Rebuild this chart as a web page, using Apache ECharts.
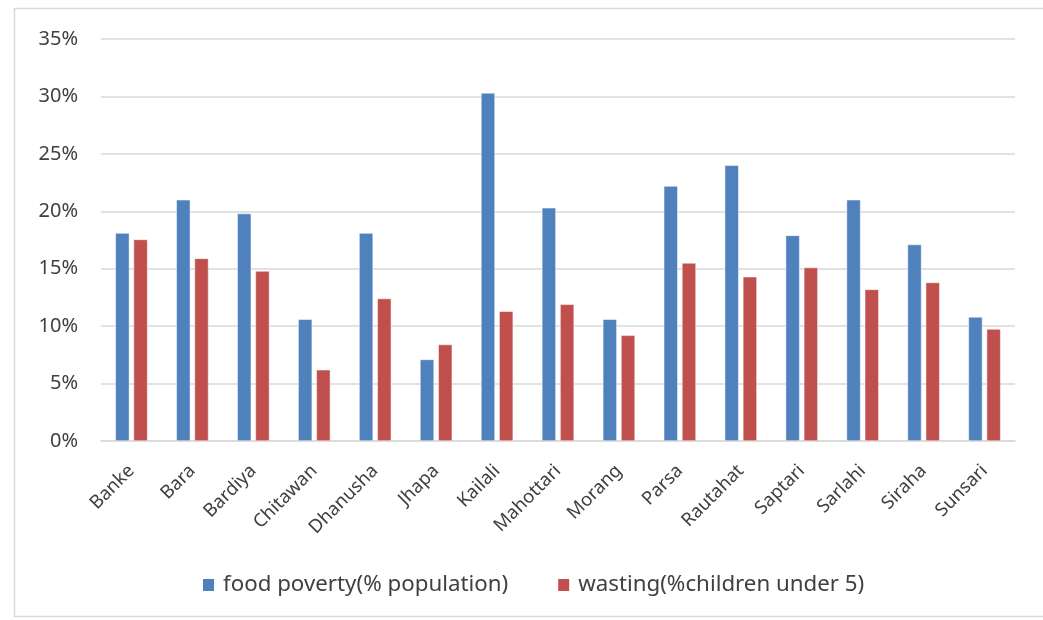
<!DOCTYPE html>
<html><head><meta charset="utf-8">
<script src="https://cdn.jsdelivr.net/npm/echarts@6/dist/echarts.min.js"></script>
<style>html,body{margin:0;padding:0;background:#fff}#c{width:1043px;height:620px}</style>
</head><body><div id="c"></div>
<script>
const categories = ["Banke","Bara","Bardiya","Chitawan","Dhanusha","Jhapa","Kailali","Mahottari","Morang","Parsa","Rautahat","Saptari","Sarlahi","Siraha","Sunsari"];
const foodPoverty = [18.1,21.0,19.8,10.6,18.1,7.1,30.3,20.3,10.6,22.2,24.0,17.9,21.0,17.1,10.8];
const wasting = [17.55,15.9,14.8,6.2,12.4,8.4,11.3,11.9,9.2,15.5,14.3,15.1,13.2,13.8,9.75];
const seriesNames = ["food poverty(% population)","wasting(%children under 5)"];
const yTicks = [0,5,10,15,20,25,30,35];

const chart = echarts.init(document.getElementById('c'));
const font = 'Noto Sans';
chart.setOption({
  animation:false,
  textStyle:{fontFamily:font},
  graphic:[{type:'rect',shape:{x:14.5,y:8.5,width:1040,height:608},style:{fill:'none',stroke:'#d9d9d9',lineWidth:1.5},silent:true}],
  grid:{left:101,right:28,top:39,bottom:179},
  legend:{top:569,left:196,itemWidth:13,itemHeight:14,itemGap:48,icon:'rect',
    textStyle:{fontSize:22.3,color:'#404040',fontFamily:font,padding:[0,0,0,3]}},
  xAxis:{type:'category',data:categories,
    axisLine:{lineStyle:{color:'#d9d9d9',width:1.5}},axisTick:{show:false},
    axisLabel:{rotate:45,fontSize:18.5,color:'#404040',margin:27,interval:0}},
  yAxis:{type:'value',min:yTicks[0],max:yTicks[yTicks.length-1],interval:5,
    axisLine:{show:false},axisTick:{show:false},
    splitLine:{lineStyle:{color:'#d9d9d9',width:1.5}},
    axisLabel:{formatter:v=>v+'%',fontSize:20,color:'#404040',margin:23}},
  series:[
    {name:seriesNames[0],type:'bar',data:foodPoverty,barWidth:14,barGap:'30%',
     itemStyle:{color:'#4F81BD',borderColor:'#ffffff',borderWidth:0.5}},
    {name:seriesNames[1],type:'bar',data:wasting,barWidth:14,barGap:'30%',
     itemStyle:{color:'#C0504D',borderColor:'#ffffff',borderWidth:0.5}}
  ]
});
</script></body></html>
